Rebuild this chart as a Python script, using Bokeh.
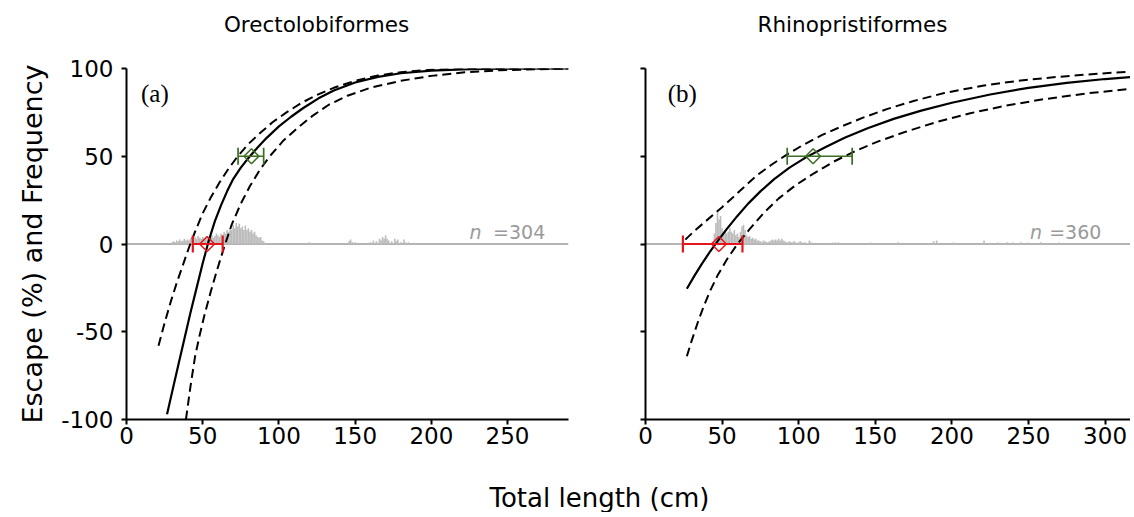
import numpy as np
from bokeh.plotting import figure
from bokeh.models import Range1d, Span, Label, Whisker, ColumnDataSource, TeeHead, FixedTicker
from bokeh.layouts import column, row
from bokeh.embed import file_html
from bokeh.resources import INLINE

# ---------------- data ----------------
titles = ["Orectolobiformes", "Rhinopristiformes"]
panel_tags = ["(a)", "(b)"]
n_text = ["304", "360"]
y_ticks = [-100, -50, 0, 50, 100]
y_tick_labels = {-100: "-100", -50: "-50", 0: "0", 50: "50", 100: "100"}
a_x_ticks = [0, 50, 100, 150, 200, 250]
b_x_ticks = [0, 50, 100, 150, 200, 250, 300]

# panel (a) fitted curve and confidence bounds
a_fit_x = [26.6, 30, 34, 38, 42, 46, 50, 54, 58, 62, 66, 70, 75, 80, 86, 92, 100, 108, 116, 126, 136, 150, 165, 180, 200, 220, 245, 290]
a_fit_y = [-97, -84, -69, -54, -39, -25, -11, 2, 13, 22, 30, 37, 43.5, 49, 55, 60.5, 67, 72.5, 77.5, 83, 87.5, 92, 95.2, 97.3, 98.8, 99.5, 99.9, 100]
a_up_x = [21, 25, 29, 33, 37, 41, 45, 50, 55, 61, 67, 73, 80, 88, 96, 105, 115, 125, 136, 150, 165, 180, 200, 225, 290]
a_up_y = [-58, -45, -33, -22, -12, -2, 7, 17.5, 26, 35, 43, 50, 57, 63.5, 69.5, 75, 80.5, 85, 89, 93, 96, 97.9, 99.3, 99.8, 100]
a_lo_x = [39, 42, 45, 48, 51, 55, 59, 64, 69, 75, 81, 88, 95, 103, 112, 122, 133, 145, 160, 180, 200, 222, 245, 290]
a_lo_y = [-100, -81, -64, -52, -41, -28, -16, -2, 11, 23, 33, 43, 51, 59, 66, 73, 79.5, 84.5, 89, 93, 95.8, 97.8, 99, 100]

# panel (b) fitted curve and confidence bounds
b_fit_x = [27, 32, 37, 42, 47, 53, 60, 67, 75, 84, 94, 105, 117, 130, 145, 162, 180, 200, 225, 250, 275, 300, 320]
b_fit_y = [-25.5, -18, -11, -4.5, 1.5, 8.5, 16, 23, 30, 37, 43.5, 49.5, 55, 60.5, 66, 71.3, 76, 80.5, 85.2, 89, 91.8, 94, 95.3]
b_up_x = [26, 32, 38, 44, 50, 57, 65, 73, 82, 92, 103, 115, 128, 142, 158, 175, 195, 220, 245, 270, 295, 320]
b_up_y = [2.5, 7.5, 12, 16.5, 21, 26.5, 33, 39.3, 45, 50.8, 56.5, 62, 67, 72, 77, 81.5, 86, 90.2, 93.2, 95.3, 97, 98.4]
b_lo_x = [27, 30, 34, 38, 42, 47, 53, 60, 68, 77, 87, 98, 110, 123, 137, 152, 170, 190, 212, 235, 260, 290, 320]
b_lo_y = [-64, -55.5, -45, -35.5, -27, -18, -9, 0, 8.5, 17.5, 26, 33.5, 40.3, 47, 53, 58.5, 64, 69.5, 74.5, 78.8, 82.5, 86, 88.7]

# L0 (escape = 0) and L50 (escape = 50) estimates with intervals: [estimate, lower, upper]
a_l0 = [52.9, 43.5, 63.1]
a_l50 = [82.0, 73.2, 90.0]
b_l0 = [47.9, 24.4, 63.3]
b_l50 = [109.4, 92.5, 134.9]

# length-frequency distributions (frequency, same axis units)
a_hist_len = list(range(30, 92)) + [120, 146, 147, 148, 150, 160, 162, 164, 166, 167, 168, 169, 170, 171, 172, 174, 176, 177, 178, 180, 182, 183, 185]
a_hist_freq = [1, 1.5, 1, 2, 1.5, 2.5, 1.5, 2, 3, 2, 2.5, 2, 3, 3.5, 2.5, 4, 3, 4.5, 3.5, 3, 4, 3, 3.5, 4, 3, 4, 5, 3.5,
               4.5, 6, 5, 4, 6, 5, 7, 6, 8, 7, 9, 8, 11, 9, 12, 10, 11.5, 9, 10, 8, 10.5, 8, 9, 7, 8, 6, 7, 5, 4,
               3.5, 4, 2, 1.5, 0.5,
               1, 1.5, 2.5, 1, 1, 1, 2, 1.5, 3, 2, 4, 3, 5, 3, 2, 1.5, 3, 1.5, 2.5, 1, 2.5, 1, 1]
b_hist_len = list(range(45, 103)) + [104, 106, 107, 108, 122, 124, 126, 147, 165, 188, 190, 201, 221, 230, 236, 240, 245, 250, 258, 270]
b_hist_freq = [6, 12, 18, 14, 16, 9, 7, 8, 6, 7, 9, 7, 6, 8, 5, 6, 4, 7, 10, 11, 8, 5, 4, 4.5, 3, 3.5, 2.5, 3, 2, 2,
               1.5, 1, 2, 1.5, 1, 1, 1.5, 2, 2.5, 2, 2.5, 2, 3, 2, 3, 2, 1.5, 1, 1, 1.5, 1, 1, 1.5, 1, 0.5, 1, 1.5, 1,
               1, 0.5, 2, 1, 0.8, 1, 0.8, 0.8, 1, 1.5, 2, 0.8, 2, 0.8, 1, 0.8, 1, 0.8, 1, 0.8]

# ---------------- styling ----------------
FONT = "DejaVu Sans"
RED = "#e3161c"
GREEN = "#3b6e22"
HIST = "#bcbcbc"
ZERO = "#b4b4b4"
NCOL = "#9a9a9a"
TOTAL_W = 1130
DASH = "9 5"


def panel(xmax, xticks, fit, up, lo, l0, l50, hx, hy, tag, tag_x, n, n_x, eq_x,
          width, bl, br, show_ylabels):
    p = figure(width=width, height=427, x_range=Range1d(0, xmax), y_range=Range1d(-100, 100),
               output_backend="svg", toolbar_location=None,
               min_border_left=bl, min_border_right=br, min_border_top=28, min_border_bottom=48)
    p.grid.visible = False
    p.outline_line_color = None
    for ax in (p.xaxis[0], p.yaxis[0]):
        ax.axis_line_width = 2
        ax.axis_line_color = "black"
        ax.major_tick_line_width = 2
        ax.major_tick_in = 0
        ax.major_tick_out = 5
        ax.minor_tick_line_color = None
        ax.major_label_text_font = FONT
        ax.major_label_text_font_size = "23px"
        ax.major_label_text_color = "black"
    p.xaxis.ticker = FixedTicker(ticks=xticks)
    p.yaxis.ticker = FixedTicker(ticks=y_ticks)
    p.yaxis.major_label_overrides = y_tick_labels
    p.xaxis.major_label_standoff = 2
    p.yaxis.major_label_standoff = 8
    if show_ylabels:
        p.yaxis.axis_label = "Escape (%) and Frequency"
        p.yaxis.axis_label_text_font = FONT
        p.yaxis.axis_label_text_font_size = "27px"
        p.yaxis.axis_label_text_font_style = "normal"
        p.yaxis.axis_label_text_color = "black"
        p.yaxis.axis_label_standoff = 10
    else:
        p.yaxis.major_label_text_font_size = "0px"

    # length-frequency histogram and zero line
    p.add_layout(Span(location=0, dimension="width", line_color=ZERO, line_width=2, level="underlay"))
    p.vbar(x=hx, top=hy, bottom=0, width=1.05, fill_color=HIST, line_color=None)

    # curves
    p.line(up[0], up[1], line_color="black", line_width=2, line_dash=DASH)
    p.line(lo[0], lo[1], line_color="black", line_width=2, line_dash=DASH)
    p.line(fit[0], fit[1], line_color="black", line_width=2.2)

    # L0 / L50 with intervals
    for est, ylev, col, lw in ((l0, 0, RED, 2.2), (l50, 50, GREEN, 1.7)):
        src = ColumnDataSource(dict(base=[ylev], lower=[est[1]], upper=[est[2]], x=[est[0]]))
        w = Whisker(base="base", lower="lower", upper="upper", dimension="width", source=src,
                    line_color=col, line_width=lw, level="overlay",
                    upper_head=TeeHead(size=17, line_color=col, line_width=lw),
                    lower_head=TeeHead(size=17, line_color=col, line_width=lw))
        p.add_layout(w)
        p.scatter(x="x", y="base", source=src, marker="square", angle=np.pi / 4, size=10.5,
                  fill_color=None, line_color=col, line_width=1.5, level="overlay")

    # texts inside the panel
    p.add_layout(Label(x=tag_x, y=85.5, text=tag, text_align="left", text_baseline="alphabetic",
                       text_font="Liberation Serif", text_font_size="25px", text_color="black"))
    p.add_layout(Label(x=eq_x, y=7, text="=" + n, text_align="left", text_baseline="alphabetic",
                       text_font=FONT, text_font_size="19px", text_color=NCOL))
    p.add_layout(Label(x=n_x, y=7, text="n", text_align="left", text_baseline="alphabetic",
                       text_font=FONT, text_font_size="19px", text_font_style="italic", text_color=NCOL))
    return p


pa = panel(290, a_x_ticks, (a_fit_x, a_fit_y), (a_up_x, a_up_y), (a_lo_x, a_lo_y), a_l0, a_l50,
           a_hist_len, a_hist_freq, panel_tags[0], 9.5, n_text[0], 225, 240.5,
           width=588, bl=126, br=20, show_ylabels=True)
pb = panel(316.6, b_x_ticks, (b_fit_x, b_fit_y), (b_up_x, b_up_y), (b_lo_x, b_lo_y), b_l0, b_l50,
           b_hist_len, b_hist_freq, panel_tags[1], 14.5, n_text[1], 251, 263.5,
           width=TOTAL_W - 588, bl=57, br=0, show_ylabels=False)


def text_strip(height):
    f = figure(width=TOTAL_W, height=height, x_range=Range1d(0, TOTAL_W), y_range=Range1d(0, height),
               output_backend="svg", toolbar_location=None, min_border=0,
               x_axis_location=None, y_axis_location=None)
    f.grid.visible = False
    f.outline_line_color = None
    return f


# panel titles (strip above the panels, coordinates in pixels from the strip's bottom)
pt = text_strip(40)
pt.add_layout(Label(x=316, y=16, text=titles[0], text_align="center", text_baseline="middle",
                    text_font=FONT, text_font_size="21.5px", text_color="black"))
pt.add_layout(Label(x=852, y=16, text=titles[1], text_align="center", text_baseline="middle",
                    text_font=FONT, text_font_size="21.5px", text_color="black"))

# common x-axis label (strip below the panels)
pc = text_strip(45)
pc.add_layout(Label(x=599, y=15, text="Total length (cm)", text_align="center", text_baseline="middle",
                    text_font=FONT, text_font_size="26px", text_color="black"))

layout = column(pt, row(pa, pb), pc)
open("out.html", "w").write(file_html(layout, INLINE))
